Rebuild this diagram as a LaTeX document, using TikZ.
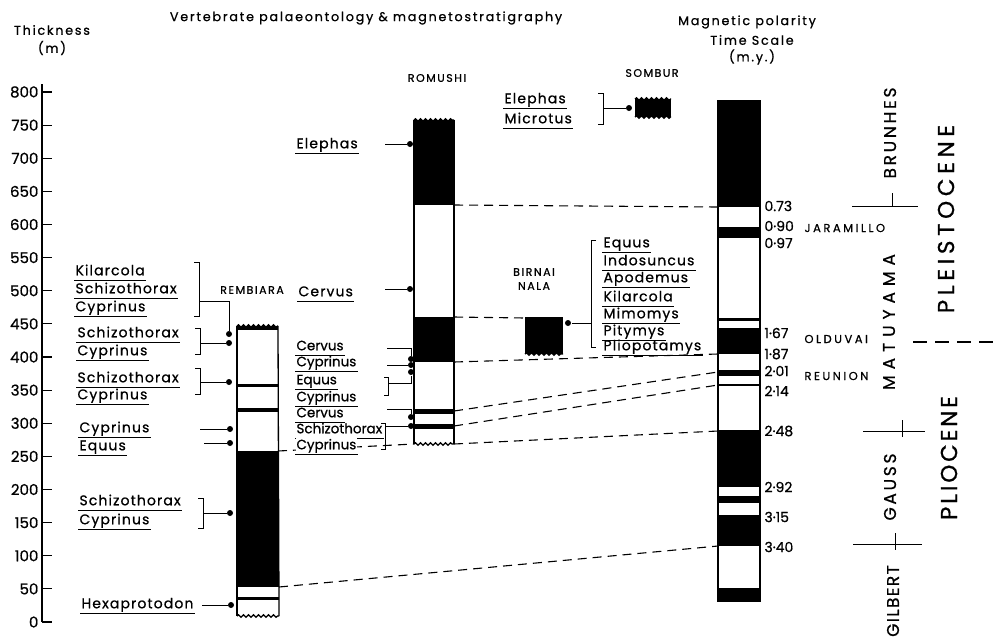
\documentclass[tikz,border=0pt]{standalone}
\usepackage{fontspec}
\setmainfont{Poppins}[FakeBold=0.8]
\newfontfamily\spacedfont{Poppins}[LetterSpace=8, FakeBold=0.8]
\newfontfamily\widefont{Poppins}[LetterSpace=14, FakeBold=0.8]
\usetikzlibrary{decorations.pathmorphing}

\newcommand\taxonfont{\spacedfont\fontsize{14}{16}\selectfont}
\newcommand\taxonsmall{\fontsize{13.5}{15}\selectfont}
\newcommand\headfont{\widefont\fontsize{12.7}{14}\selectfont}
\newcommand\sitefont{\widefont\fontsize{11}{12}\selectfont}
\newcommand\agefont{\fontsize{14}{14}\selectfont}

\tikzset{
  col/.style={line width=1.3pt},
  corr/.style={line width=1.1pt, dash pattern=on 9pt off 6pt},
  wavy/.style={decorate, decoration={snake, segment length=5pt, amplitude=1.2pt}},
  dot/.style={circle, fill, inner sep=0pt, minimum size=6pt},
  taxon/.style={anchor=west, inner sep=1pt, text height=10pt, text depth=3.5pt, font=\taxonfont,
    append after command={(\tikzlastnode.south west) edge[line width=0.9pt] (\tikzlastnode.south east)}},
  taxonb/.style={taxon, font=\taxonsmall},
  site/.style={font=\sitefont, inner sep=1pt},
  event/.style={anchor=west, inner sep=1pt, font=\widefont\fontsize{11.5}{12}\selectfont\addfontfeatures{LetterSpace=22}},
  age/.style={anchor=west, font=\agefont, inner sep=1pt},
  chron/.style={rotate=90, font={\fontsize{17}{17}\selectfont\addfontfeatures{LetterSpace=#1}}},
  epoch/.style={rotate=90, font={\fontsize{23}{23}\selectfont\addfontfeatures{LetterSpace=#1}}},
}

\begin{document}
\begin{tikzpicture}[x=1pt, y=-1pt, line width=1pt]
\useasboundingbox (0,0) rectangle (993,638);

% thickness scale
\draw[line width=1.5pt] (42,84) -- (42,622);
\foreach \m in {0,50,...,800}
  \draw[line width=1.2pt] (42,{622-0.6625*\m}) -- (52,{622-0.6625*\m})
    node[pos=0, left, font=\fontsize{15}{15}\selectfont, inner sep=3pt] (tick\m) {\m};
\node[font=\headfont] (thick) at (52,30) {Thickness};
\node[font=\headfont] (thickunit) at (52,48) {(m)};

% headings
\node[font=\headfont] (title) at (366,18) {Vertebrate palaeontology \& magnetostratigraphy};
\node[font=\headfont] (gpts1) at (747,22) {Magnetic polarity};
\node[font=\headfont] (gpts2) at (752,40) {Time Scale};
\node[font=\headfont] (gpts3) at (752,57) {(m.y.)};

% Rembiara column
\fill (237,326) rectangle (278,330);
\fill (237,384) rectangle (278,387);
\fill (237,408) rectangle (278,412);
\fill (237,451) rectangle (279,587);
\fill (237,597) rectangle (279,600);
\draw[col] (237,326) -- (237,616);
\draw[col] (278,326) -- (279,616);
\draw[col, wavy] (237,326) -- (278,326);
\draw[col, wavy] (237,616) -- (279,616);
\coordinate (rem451) at (278,451);
\coordinate (rem587) at (279,587);
\node[site] (rembiara) at (252,290) {REMBIARA};

% Romushi column
\fill (414,120) rectangle (454,205);
\fill (414,317) rectangle (454,362);
\fill (414,409) rectangle (454,414);
\fill (414,424) rectangle (454,429);
\draw[col] (414,120) -- (414,444);
\draw[col] (454,120) -- (454,444);
\draw[col, wavy] (414,120) -- (454,120);
\draw[col, wavy] (414,444) -- (454,444);
\coordinate (rom444w) at (414,444);
\coordinate (rom205) at (454,205);
\coordinate (rom317) at (454,317);
\coordinate (rom362) at (454,362);
\coordinate (rom411) at (454,411);
\coordinate (rom426) at (454,426);
\coordinate (rom444) at (454,444);
\node[site] (romushi) at (437,78) {ROMUSHI};

% Sombur
\fill (635,99) rectangle (671,117);
\draw[col, wavy] (635,99) -- (671,99);
\draw[col, wavy] (635,117) -- (671,117);
\node[site] (sombur) at (652,73) {SOMBUR};

% Birnai Nala
\fill (525,317) rectangle (563,354);
\draw[col, wavy] (525,354) -- (563,354);
\coordinate (bir317) at (525,318);
\node[site] (birnai) at (534,272) {BIRNAI};
\node[site] (nala) at (534,286) {NALA};

% polarity time scale
\foreach \a/\b in {101/207, 227/238, 318/321, 328/354, 370/376, 384/386, 430/487, 496/503, 515/546, 588/601}
  \fill (718,\a) rectangle (760,\b);
\draw[col] (718,101) rectangle (760,601);
\coordinate (gp073) at (718,207);
\coordinate (gp187) at (718,354);
\coordinate (gp201) at (718,372);
\coordinate (gp214) at (718,385);
\coordinate (gp248) at (718,431);
\coordinate (gp340) at (718,546);
\node[age] (a073) at (763,206) {0.73};
\node[age] (a090) at (763,226) {0·90};
\node[age] (a097) at (763,243) {0·97};
\node[age] (a167) at (763,333) {1·67};
\node[age] (a187) at (763,354) {1·87};
\node[age] (a201) at (763,371) {2·01};
\node[age] (a214) at (763,391) {2·14};
\node[age] (a248) at (763,431) {2·48};
\node[age] (a292) at (763,487) {2·92};
\node[age] (a315) at (763,517) {3·15};
\node[age] (a340) at (763,547) {3·40};
\node[event] (jaramillo) at (803,228) {JARAMILLO};
\node[event] (olduvai) at (803,339) {OLDUVAI};
\node[event] (reunion) at (803,376) {REUNION};

% correlation
\draw[corr] (rem451) -- (rom444w);
\draw[corr] (rem587) -- (gp340);
\draw[corr] (rom205) -- (gp073);
\draw[corr] (rom317) -- (bir317);
\draw[corr] (rom362) -- (gp187);
\draw[corr] (rom411) -- (gp201);
\draw[corr] (rom426) -- (gp214);
\draw[corr] (rom444) -- (gp248);

% chrons and epochs
\node[chron=16] (brunhes) at (890,133) {BRUNHES};
\node[chron=35] (matuyama) at (889,322) {MATUYAMA};
\node[chron=16] (gauss) at (890,487) {GAUSS};
\node[chron=8] (gilbert) at (893,601) {GILBERT};
\draw (852,206) -- (918,206);
\draw (892,193) -- (892,206);
\draw (863,431) -- (925,431);
\draw (902,420) -- (902,437);
\draw (853,544) -- (922,544);
\draw (895,533) -- (895,550);
\draw[line width=1.2pt, dash pattern=on 14pt off 8pt] (913,342) -- (993,342);
\node[epoch=20] (pleisto) at (946,219) {PLEISTOCENE};
\node[epoch=12] (plio) at (949,458) {PLIOCENE};

% Rembiara fauna
\node[taxon] (ra1) at (74,272) {Kilarcola};
\node[taxon] (ra2) at (74,290) {Schizothorax};
\node[taxon] (ra3) at (74,308) {Cyprinus};
\draw (194,262) -- (199,262) -- (199,316) -- (194,316);
\node[dot] (rad) at (229,334) {};
\draw (199,301) -| (rad);
\node[taxon] (rb1) at (76,334) {Schizothorax};
\node[taxon] (rb2) at (76,352) {Cyprinus};
\draw (195,328) -- (200,328) -- (200,354) -- (195,354);
\node[dot] (rbd) at (229,343) {};
\draw (200,343) -- (rbd);
\node[taxon] (rc1) at (76,379) {Schizothorax};
\node[taxon] (rc2) at (76,396) {Cyprinus};
\draw (195,368) -- (200,368) -- (200,394) -- (195,394);
\node[dot] (rcd) at (229,382) {};
\draw (200,382) -- (rcd);
\node[taxon] (rd1) at (78,429) {Cyprinus};
\node[dot] (rdd) at (230,429) {};
\draw (200,429) -- (rdd);
\node[taxon] (re1) at (78,447) {Equus};
\node[dot] (red) at (230,443) {};
\draw (204,443) -- (red);
\node[taxon] (rf1) at (78,502) {Schizothorax};
\node[taxon] (rf2) at (78,521) {Cyprinus};
\draw (198,498) -- (203,498) -- (203,528) -- (198,528);
\node[dot] (rfd) at (230,513) {};
\draw (203,513) -- (rfd);
\node[taxon] (rg1) at (80,605) {Hexaprotodon};
\node[dot] (rgd) at (231,605) {};
\draw (202,605) -- (rgd);

% Romushi fauna
\node[taxon] (ma1) at (295,145) {Elephas};
\node[dot] (mad) at (410,144) {};
\draw (385,144) -- (mad);
\node[taxon] (mb1) at (297,293) {Cervus};
\node[dot] (mbd) at (410,289) {};
\draw (385,289) -- (mbd);
\node[taxonb] (mc1) at (295,347) {Cervus};
\node[taxonb] (mc2) at (295,363) {Cyprinus};
\node[taxonb] (mc3) at (295,381) {Equus};
\node[taxonb] (mc4) at (295,398) {Cyprinus};
\node[taxonb] (mc5) at (295,414) {Cervus};
\node[taxonb] (mc6) at (295,430) {Schizothorax};
\node[taxonb, fill=white] (mc7) at (295,446) {Cyprinus};
\node[dot] (m1d) at (411,359) {};
\draw (387,348) -| (m1d);
\node[dot] (m2d) at (411,365) {};
\draw (387,365) -- (m2d);
\node[dot] (m3d) at (411,372) {};
\draw (384,377) -- (388,377) -- (388,395) -- (384,395);
\draw (388,383) -| (m3d);
\node[dot] (m5d) at (411,417) {};
\draw (387,409) -| (m5d);
\node[dot] (m6d) at (411,426) {};
\draw (381,423) -- (385,423) -- (385,449) -- (381,449);
\draw (385,426) -- (m6d);

% Sombur fauna
\node[taxon] (sa1) at (503,100) {Elephas};
\node[taxon] (sa2) at (503,120) {Microtus};
\draw (598,93) -- (603,93) -- (603,124) -- (598,124);
\node[dot] (sad) at (629,108) {};
\draw (603,108) -- (sad);

% Birnai Nala fauna
\node[taxon] (ba1) at (602,244) {Equus};
\node[taxon] (ba2) at (602,262) {Indosuncus};
\node[taxon] (ba3) at (602,279) {Apodemus};
\node[taxon] (ba4) at (602,298) {Kilarcola};
\node[taxon] (ba5) at (602,315) {Mimomys};
\node[taxon] (ba6) at (602,332) {Pitymys};
\node[taxon] (ba7) at (602,347) {Pliopotamys};
\draw (596,240) -- (591,240) -- (591,347) -- (596,347);
\node[dot] (bad) at (568,323) {};
\draw (591,323) -- (bad);
\end{tikzpicture}
\end{document}
